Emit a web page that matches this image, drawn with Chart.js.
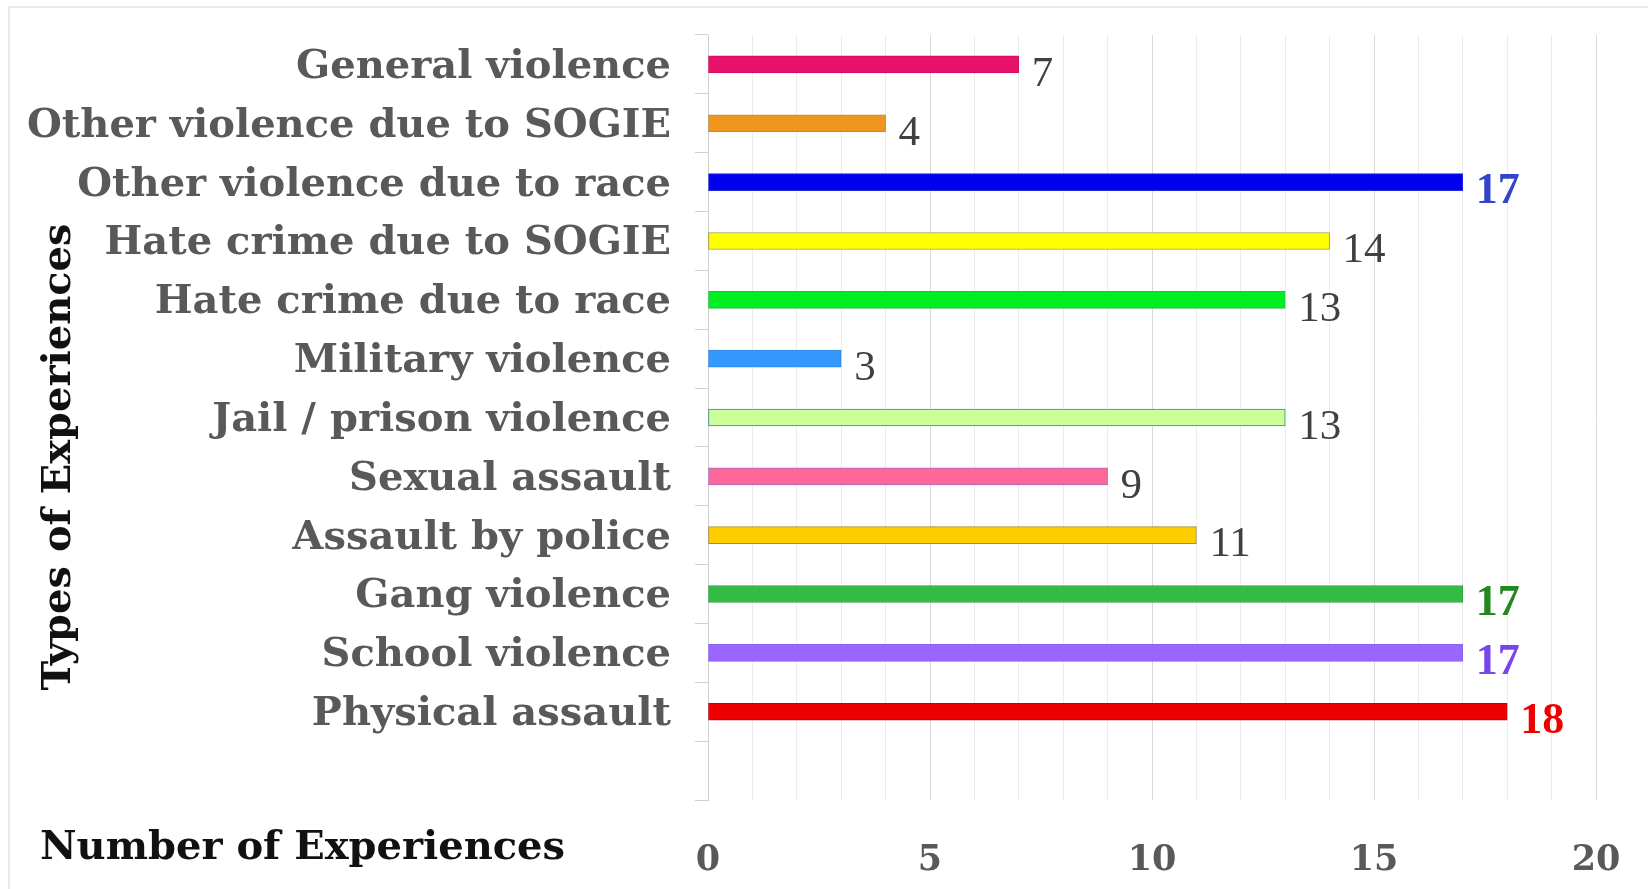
<!DOCTYPE html>
<html>
<head>
<meta charset="utf-8">
<script src="https://cdn.jsdelivr.net/npm/chart.js@4/dist/chart.umd.min.js"></script>
<style>
  html, body { margin: 0; padding: 0; background: #fff; }
  #wrap { position: relative; width: 1648px; height: 889px; }
  #frame { position: absolute; left: 8px; top: 6px; right: -4px; bottom: -4px; border: 2px solid #e9e9e9; }
  canvas { position: absolute; left: 0; top: 0; }
</style>
</head>
<body>
<div id="wrap">
  <div id="frame"></div>
  <canvas id="myChart" width="1648" height="889"></canvas>
</div>
<script>
// experiences, top to bottom; the trailing blank keeps an empty row under the last bar
let labels = ['General violence', 'Other violence due to SOGIE', 'Other violence due to race',
  'Hate crime due to SOGIE', 'Hate crime due to race', 'Military violence', 'Jail / prison violence',
  'Sexual assault', 'Assault by police', 'Gang violence', 'School violence', 'Physical assault', ''];
let counts = [7, 4, 17, 14, 13, 3, 13, 9, 11, 17, 17, 18, null];
let colors = ['#E8126A', '#F0961E', '#0000EE', '#FFFF00', '#00EE22', '#3399FF', '#CCFF99',
  '#FF6699', '#FFCC00', '#33BB44', '#9966FF', '#EE0000', '#fff'];
let borders = ['#C81060', '#B88A3A', '#2A2AD8', '#A0A040', '#20C040', '#3388DD', '#3A8A8A',
  '#A070C0', '#A09030', '#30A040', '#8A60EE', '#C00010', '#fff'];
let labelColors = ['#404040', '#404040', '#3344CC', '#404040', '#404040', '#404040', '#404040',
  '#404040', '#404040', '#228822', '#7744EE', '#EE0000', '#404040'];
let xTicks = [0, 5, 10, 15, 20];

const serif = '"DejaVu Serif", "Liberation Serif", serif';

// value next to the end of each bar
const valueLabels = {
  id: 'valueLabels',
  afterDatasetsDraw(chart) {
    const ctx = chart.ctx;
    const meta = chart.getDatasetMeta(0);
    ctx.save();
    ctx.textBaseline = 'middle';
    ctx.textAlign = 'left';
    meta.data.forEach((bar, i) => {
      const v = counts[i];
      if (v === null) return;
      const big = v >= 17;
      ctx.font = (big ? 'bold 44px ' : '43px ') + '"Liberation Serif", serif';
      ctx.fillStyle = labelColors[i];
      ctx.fillText(String(v), bar.x + 13, bar.y + 10);
    });
    ctx.restore();
  }
};

// axis titles sit outside the usual scale boxes
const axisTitles = {
  id: 'axisTitles',
  afterDraw(chart) {
    const ctx = chart.ctx;
    ctx.save();
    ctx.fillStyle = '#111';
    ctx.font = 'bold 40px ' + serif;
    ctx.textBaseline = 'middle';
    ctx.textAlign = 'left';
    ctx.fillText('Number of Experiences', 40, 849);
    ctx.translate(60, 457);
    ctx.rotate(-Math.PI / 2);
    ctx.textAlign = 'center';
    ctx.fillText('Types of Experiences', 0, 0);
    ctx.restore();
  }
};

new Chart(document.getElementById('myChart').getContext('2d'), {
  type: 'bar',
  data: {
    labels: labels,
    datasets: [{
      data: counts,
      backgroundColor: colors,
      borderColor: borders,
      borderWidth: 1,
      borderSkipped: false,
      barThickness: 17
    }]
  },
  options: {
    indexAxis: 'y',
    responsive: false,
    animation: false,
    layout: { padding: { top: 35, right: 52, left: 0, bottom: 0 } },
    plugins: {
      legend: { display: false },
      tooltip: { enabled: false }
    },
    scales: {
      x: {
        min: 0,
        max: 20,
        afterBuildTicks(scale) {
          scale.ticks = [];
          for (let v = 0; v <= 20; v++) scale.ticks.push({ value: v });
        },
        afterFit(scale) {
          scale.height = 89;
          scale.paddingLeft = 0;
          scale.paddingRight = 0;
        },
        border: { display: false },
        grid: {
          drawTicks: false,
          color: ctx => ctx.tick && ctx.tick.value % 5 === 0 ? '#d9d9d9' : '#ececec',
          lineWidth: 1
        },
        ticks: {
          padding: 40,
          autoSkip: false,
          maxRotation: 0,
          color: '#595959',
          font: { family: serif, size: 35, weight: 'bold' },
          callback: v => xTicks.includes(v) ? String(v) : ''
        }
      },
      y: {
        afterFit(scale) {
          scale.width = 708;
          scale.paddingTop = 0;
          scale.paddingBottom = 0;
        },
        border: { display: true, color: '#d0d0d0', width: 1 },
        grid: { drawOnChartArea: false, drawTicks: true, tickLength: 13, color: '#d0d0d0' },
        ticks: {
          padding: 24,
          labelOffset: 3,
          autoSkip: false,
          color: '#595959',
          font: { family: serif, size: 40, weight: 'bold' }
        }
      }
    }
  },
  plugins: [valueLabels, axisTitles]
});
</script>
</body>
</html>
